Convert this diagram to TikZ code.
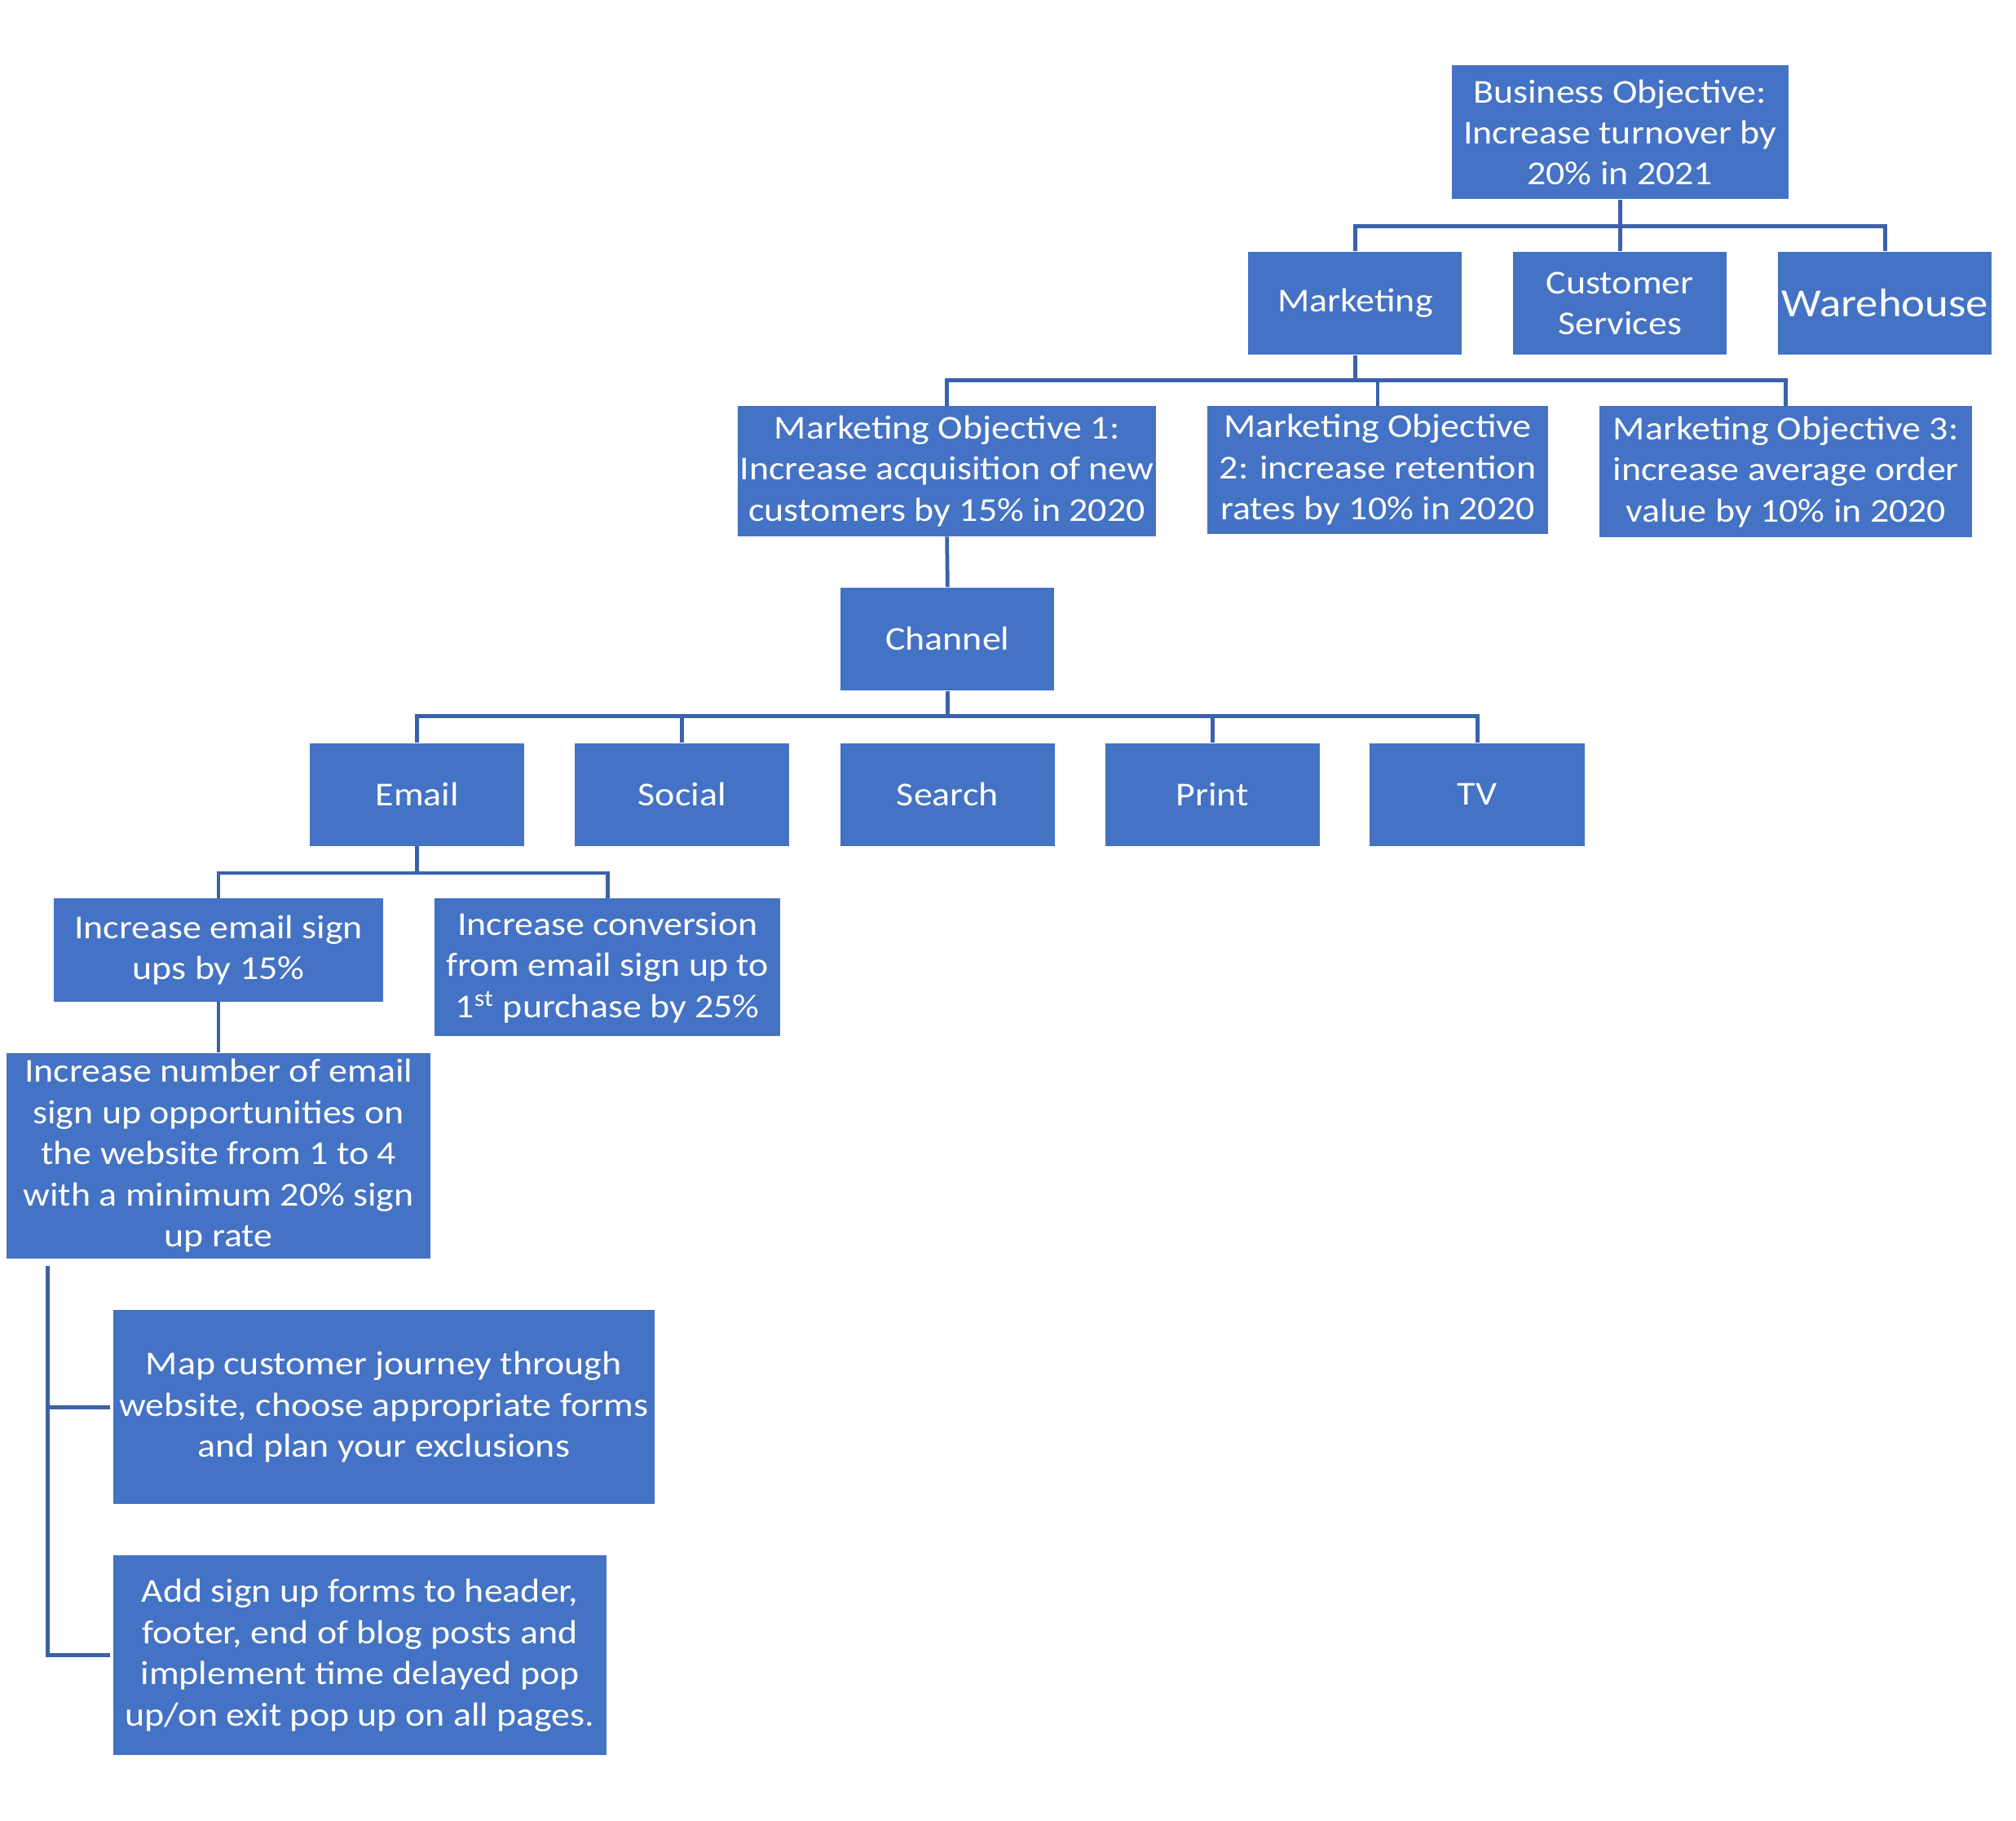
\documentclass[tikz,border=0pt]{standalone}
\usepackage{fontspec}
\setmainfont{Carlito}[FakeStretch=1.12]
\definecolor{boxblue}{HTML}{4472C4}
\definecolor{lineblue}{HTML}{3B61AB}
\begin{document}
\begin{tikzpicture}[x=0.5pt,y=-0.5pt,
  box/.style={fill=boxblue, text=white, inner sep=0pt, align=center, font=\fontsize{13}{16}\selectfont},
  conn/.style={draw=lineblue, line width=1.5pt}]
\useasboundingbox (0,0) rectangle (1568,1416);
% level 0
\node[box, minimum width=131pt, minimum height=52pt] (biz) at (1260,103) {Business Objective:\\Increase turnover by\\20\% in 2021};
% level 1
\node[box, minimum width=83pt, minimum height=40pt] (mkt) at (1054,236) {Marketing};
\node[box, minimum width=83pt, minimum height=40pt] (cs) at (1260,236) {Customer\\Services};
\node[box, minimum width=83pt, minimum height=40pt, font=\fontsize{15.5}{19}\selectfont] (wh) at (1466,236) {Warehouse};
% level 2
\node[box, minimum width=162.5pt, minimum height=50.5pt] (mo1) at (736.5,366.5) {Marketing Objective 1:\\Increase acquisition of new\\customers by 15\% in 2020};
\node[box, minimum width=132.5pt, minimum height=49.5pt] (mo2) at (1071.5,365.5) {Marketing Objective\\2: increase retention\\rates by 10\% in 2020};
\node[box, minimum width=145pt, minimum height=51pt] (mo3) at (1389,367) {Marketing Objective 3:\\increase average order\\value by 10\% in 2020};
% channel
\node[box, minimum width=83pt, minimum height=40pt] (ch) at (737,497) {Channel};
\node[box, minimum width=83.5pt, minimum height=40pt] (email) at (324.5,618) {Email};
\node[box, minimum width=83.5pt, minimum height=40pt] (social) at (530.5,618) {Social};
\node[box, minimum width=83.5pt, minimum height=40pt] (search) at (737,618) {Search};
\node[box, minimum width=83.5pt, minimum height=40pt] (print) at (943,618) {Print};
\node[box, minimum width=83.5pt, minimum height=40pt] (tv) at (1149,618) {TV};
% email goals
\node[box, minimum width=128pt, minimum height=40pt] (eg1) at (170,739) {Increase email sign\\ups by 15\%};
\node[box, minimum width=134.5pt, minimum height=53.5pt] (eg2) at (472.5,752.5) {Increase conversion\\from email sign up to\\1\textsuperscript{st} purchase by 25\%};
\node[box, minimum width=165pt, minimum height=80pt] (t1) at (170,899) {Increase number of email\\sign up opportunities on\\the website from 1 to 4\\with a minimum 20\% sign\\up rate};
\node[box, minimum width=210.5pt, minimum height=75.5pt] (a1) at (298.5,1094.5) {Map customer journey through\\website, choose appropriate forms\\and plan your exclusions};
\node[box, minimum width=192pt, minimum height=77.5pt] (a2) at (280,1287.5) {Add sign up forms to header,\\footer, end of blog posts and\\implement time delayed pop\\up/on exit pop up on all pages.};
% helper coordinates
\coordinate (h1) at (0,176);
\coordinate (h2) at (0,296);
\coordinate (h3) at (0,557);
\coordinate (h4) at (0,679);
\coordinate (v) at (37,0);
% connectors
\draw[conn] (biz.south) -- (biz.south |- h1);
\draw[conn] (mkt.north) -- (mkt.north |- h1) -| (wh.north);
\draw[conn] (cs.north) -- (cs.north |- h1);
\draw[conn] (mkt.south) -- (mkt.south |- h2);
\draw[conn] (mo1.north) -- (mo1.north |- h2) -| (mo3.north);
\draw[conn] (mo2.north) -- (mo2.north |- h2);
\draw[conn] (mo1.south) -- (ch.north);
\draw[conn] (ch.south) -- (ch.south |- h3);
\draw[conn] (email.north) -- (email.north |- h3) -| (tv.north);
\draw[conn] (social.north) -- (social.north |- h3);
\draw[conn] (print.north) -- (print.north |- h3);
\draw[conn] (email.south) -- (email.south |- h4);
\draw[conn] (eg1.north) -- (eg1.north |- h4) -| (eg2.north);
\draw[conn] (eg1.south) -- (t1.north);
\draw[conn] ([yshift=-2.5pt]t1.south -| v) -- (a2.west -| v) -- ([xshift=-1pt]a2.west);
\draw[conn] (a1.west -| v) -- ([xshift=-1pt]a1.west);
\end{tikzpicture}
\end{document}
